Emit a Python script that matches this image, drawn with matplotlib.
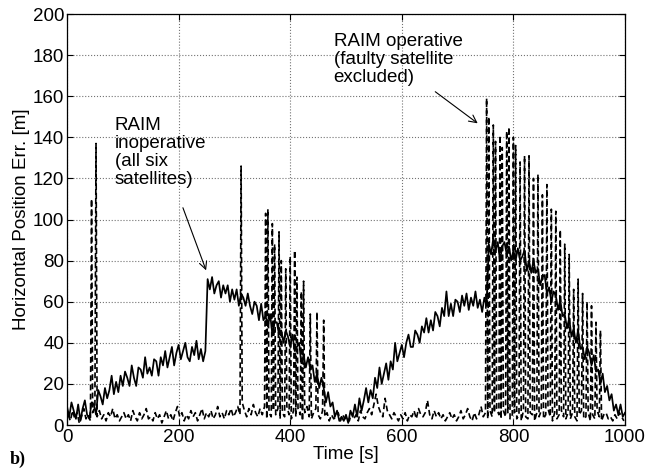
import matplotlib
matplotlib.use("Agg")
import matplotlib.pyplot as plt
import numpy as np

# solid trace: RAIM inoperative, sampled every 4 s from 0 to 1000 s
solid_err = [
    9, 4, 11, 7, 3, 10, 2, 8, 12, 5, 3, 11, 10, 5, 17, 14, 10, 18, 13, 17, 24, 15, 21, 16, 24,
    19, 26, 23, 19, 29, 23, 19, 28, 27, 23, 33, 25, 28, 24, 32, 31, 24, 33, 29, 36, 28, 33, 38, 29, 35,
    39, 32, 36, 40, 33, 31, 38, 34, 41, 32, 37, 31, 36, 71, 66, 72, 64, 68, 70, 62, 68, 64, 68, 60, 66,
    61, 66, 58, 64, 62, 58, 64, 58, 54, 60, 58, 51, 59, 51, 53, 48, 54, 44, 50, 50, 44, 46, 40, 46, 43,
    38, 44, 36, 38, 40, 30, 34, 28, 33, 27, 29, 21, 25, 18, 23, 18, 11, 16, 9, 11, 4, 7, 2, 4, 2,
    5, 1, 7, 4, 10, 4, 13, 7, 12, 18, 11, 17, 13, 23, 18, 28, 20, 25, 30, 22, 31, 27, 40, 31, 35,
    39, 33, 40, 44, 38, 38, 46, 44, 40, 48, 45, 52, 45, 51, 46, 55, 53, 48, 57, 53, 65, 53, 59, 53, 61,
    60, 55, 63, 58, 64, 56, 62, 58, 65, 57, 61, 55, 62, 58, 88, 83, 91, 85, 89, 80, 87, 89, 83, 87, 80,
    85, 80, 86, 80, 82, 85, 75, 80, 74, 80, 74, 76, 68, 72, 73, 64, 67, 60, 65, 63, 56, 61, 53, 54, 47,
    52, 43, 47, 40, 46, 37, 38, 32, 38, 35, 29, 34, 26, 27, 20, 25, 16, 19, 12, 15, 7, 10, 5, 10, 4,
    6,
]

# dashed trace: RAIM operative, background every 4 s (2 ... 998 s)
dash_base = [
    5, 2, 7, 3, 6, 1, 4, 8, 3, 5, 2, 6, 9, 4, 7, 3, 5, 2, 6, 4, 8, 3, 5, 2, 4,
    6, 3, 5, 2, 7, 4, 2, 6, 3, 5, 8, 3, 4, 2, 6, 3, 5, 1, 4, 7, 3, 5, 2, 6, 9,
    4, 6, 2, 5, 3, 7, 4, 6, 2, 5, 8, 3, 6, 4, 7, 3, 5, 9, 4, 6, 3, 7, 5, 8, 4,
    6, 9, 5, 11, 7, 4, 8, 5, 10, 6, 4, 8, 5, 9, 3, 6, 4, 7, 5, 8, 3, 6, 4, 9, 5,
    3, 7, 4, 8, 5, 2, 6, 9, 4, 3, 6, 8, 5, 3, 7, 4, 6, 2, 5, 3, 4, 6, 2, 5, 3,
    4, 2, 6, 3, 5, 2, 7, 4, 3, 6, 8, 5, 10, 15, 9, 6, 4, 13, 7, 5, 3, 6, 4, 2, 5,
    3, 6, 2, 5, 4, 7, 3, 8, 5, 4, 6, 12, 5, 3, 7, 4, 6, 3, 5, 2, 4, 6, 3, 5, 2,
    4, 7, 3, 5, 8, 4, 2, 6, 3, 5, 9, 4, 6, 3, 7, 4, 6, 8, 5, 3, 7, 4, 6, 3, 5,
    6, 3, 5, 2, 7, 4, 3, 6, 5, 2, 6, 4, 7, 3, 5, 8, 4, 2, 6, 3, 5, 7, 4, 3, 6,
    3, 6, 4, 2, 5, 7, 3, 4, 6, 2, 5, 3, 7, 4, 2, 5, 6, 3, 4, 2, 5, 3, 6, 4, 2,
]

# spikes of the dashed trace (time [s], peak [m])
spike_t = [44, 52, 312,
           356, 360, 368, 372, 380, 384, 392, 400, 408, 412, 420, 424, 436, 448, 460,
           752, 756, 764, 768, 776, 780, 788, 792, 800, 804, 812, 820, 828, 836, 844,
           852, 860, 868, 876, 884, 892, 900, 908, 916, 924, 932, 940, 948, 956]
spike_peak = [110, 137, 126,
              103, 105, 98, 88, 94, 80, 76, 82, 85, 72, 65, 70, 54, 55, 51,
              159, 150, 146, 138, 141, 135, 143, 145, 140, 136, 128, 131, 131, 120, 122,
              112, 117, 105, 104, 95, 88, 83, 66, 71, 64, 60, 58, 50, 46]

t_solid = np.arange(0, 1001, 4)
t_base = np.arange(2, 1000, 4)

t_dash = np.concatenate([t_base, spike_t])
e_dash = np.concatenate([dash_base, spike_peak])
order = np.argsort(t_dash, kind="stable")
t_dash = t_dash[order]
e_dash = e_dash[order]

plt.rcParams['font.family'] = ['Liberation Sans', 'DejaVu Sans']
plt.rcParams['font.size'] = 13.5

fig = plt.figure(figsize=(6.48, 4.69), dpi=100)
ax = fig.add_axes([0.1034, 0.0938, 0.8611, 0.8763])

ax.plot(t_dash, e_dash, color='black', lw=1.2, linestyle=(0, (3.5, 2)))
ax.plot(t_solid, solid_err, color='black', lw=1.25)

ax.set_xlim(0, 1000)
ax.set_ylim(0, 200)
ax.set_xticks(np.arange(0, 1001, 200))
ax.set_yticks(np.arange(0, 201, 20))
ax.grid(True, linestyle=':', color='0.45', lw=0.8)
ax.tick_params(direction='in', top=True, right=True, length=4.5, width=0.8)
ax.tick_params(axis='x', pad=3)
ax.tick_params(axis='y', pad=2)
for s in ax.spines.values():
    s.set_linewidth(0.9)

ax.set_xlabel("Time [s]", labelpad=0)
ax.set_ylabel("Horizontal Position Err. [m]", labelpad=2)

ax.text(86, 150, "RAIM\ninoperative\n(all six\nsatellites)", va='top', ha='left',
        linespacing=1.08)
ax.annotate("", xy=(251, 74), xytext=(206, 107),
            arrowprops=dict(arrowstyle='->', color='black', lw=0.8))

ax.text(478, 191, "RAIM operative\n(faulty satellite\nexcluded)", va='top', ha='left',
        linespacing=1.08)
ax.annotate("", xy=(740, 146), xytext=(656, 163),
            arrowprops=dict(arrowstyle='->', color='black', lw=0.8))

fig.text(0.015, 0.003, "b)", fontsize=13, fontweight='bold',
         family='Liberation Serif', va='bottom', ha='left')

fig.savefig("out.png", dpi=100)
